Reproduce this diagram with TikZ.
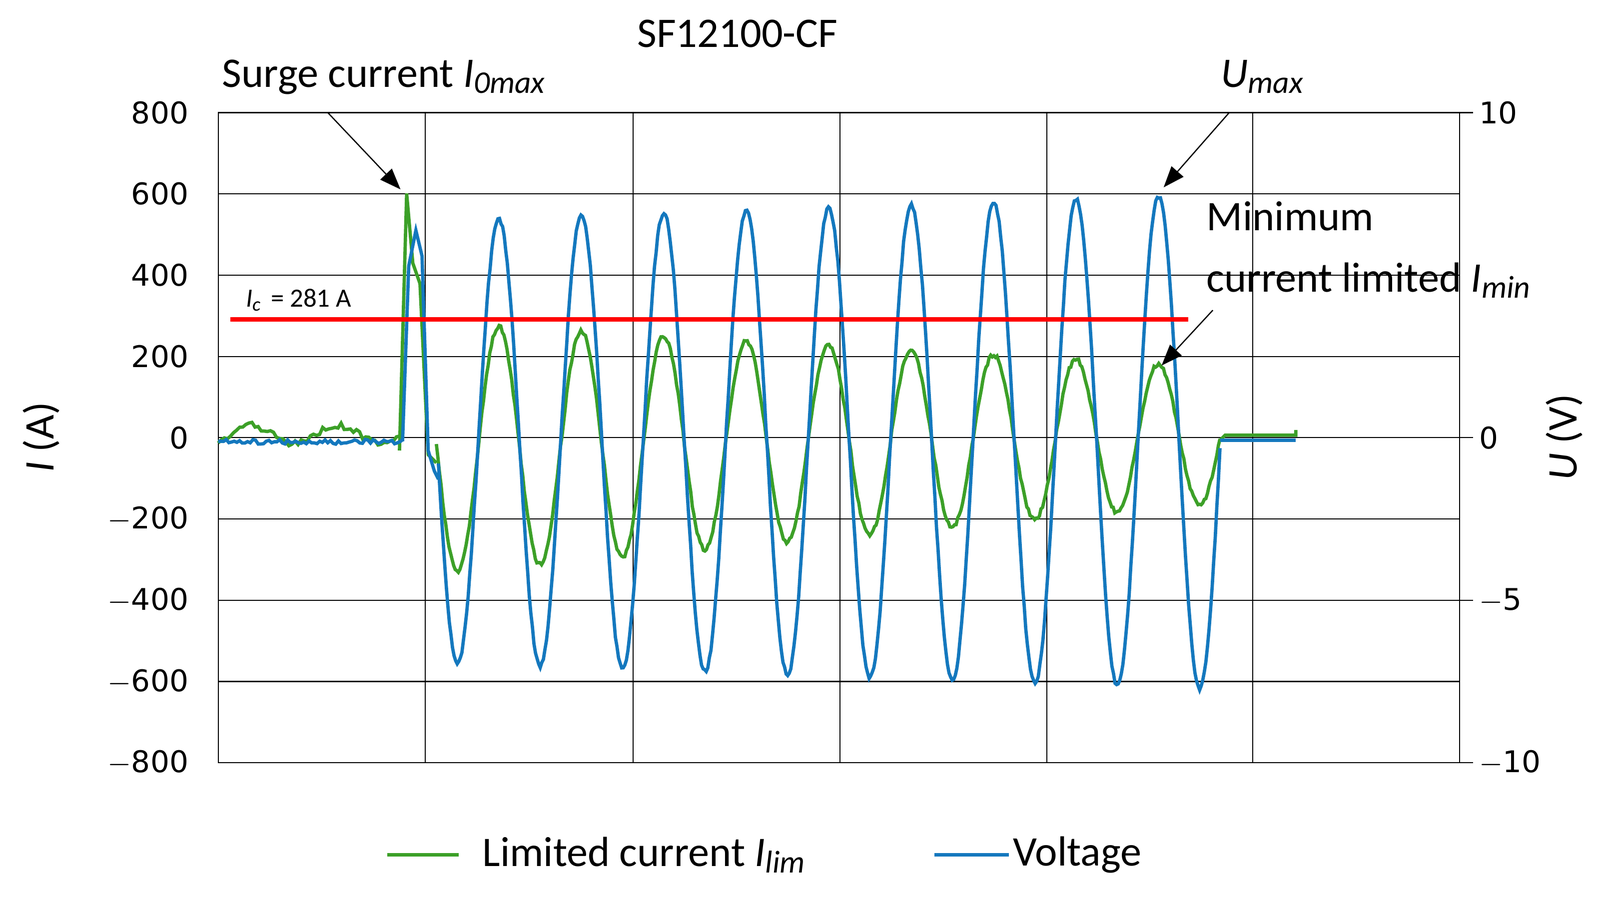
\documentclass[tikz,border=0pt]{standalone}
\usepackage{fontspec}
\usetikzlibrary{arrows.meta}
\setmainfont{Carlito}
\newfontfamily\tickfont{DejaVu Sans}
\newcommand\mysub[1]{\raisebox{-0.3ex}{\fontsize{18}{18}\selectfont\textit{#1}}}
\begin{document}
\begin{tikzpicture}[x=0.0205cm,y=-0.0205cm,
  grid/.style={black,line width=0.6pt},
  tick/.style={font=\tickfont\fontsize{17}{17}\selectfont},
  lbl/.style={font=\fontsize{24}{24}\selectfont},
  ar/.style={-{Triangle[length=12pt,width=9pt]},line width=0.7pt},
  gcurve/.style={line width=1.9pt,color={rgb,255:red,60;green,160;blue,40}},
  bcurve/.style={line width=1.9pt,color={rgb,255:red,20;green,120;blue,190}}]
\useasboundingbox (0,0) rectangle (1562,881);
% grid
\foreach \x in {415,618,820,1022,1223} \draw[grid] (\x,110) -- (\x,745);
\foreach \i in {1,...,7} \draw[grid] (213,{110+\i*79.375}) -- (1425,{110+\i*79.375});
\draw[grid] (213,110) rectangle (1425,745);
\foreach \v/\t in {800/800,600/600,400/400,200/200,0/0,-200/$-$200,-400/$-$400,-600/$-$600,-800/$-$800}
  \node[tick,anchor=east] (l\v) at (190,{427.5-0.3969*\v}) {\t};
\foreach \v/\t in {10/10,0/0,-5/$-$5,-10/$-$10}{
  \draw[grid] (1425,{427.5-31.75*\v}) -- (1438,{427.5-31.75*\v});
  \node[tick,anchor=west] (r\v) at (1438,{427.5-31.75*\v}) {\t};}
\node[lbl,rotate=90] (ya) at (40,427) {\textit{I} (A)};
\node[lbl,rotate=90] (yb) at (1527,427) {\textit{U} (V)};
\node[lbl] (title) at (720,33) {SF12100-CF};
% green current
\draw[gcurve] plot[domain=213:390,samples=60] (\x,{427.5-0.3969*(8+22*cos((\x-245)*4.235)+8*rand)});
\draw[gcurve] (390,440) -- (397,189) -- (403,257) -- (410,277) -- (418,444) -- (426,452);
\draw[gcurve] plot[domain=426:1191,samples=500] (\x,{427.5-0.3969*((-25+0.04138*(\x-446))+(305-0.18621*(\x-446))*cos((\x-487)*4.472)+5*rand)});
\draw[gcurve] (1191,430) -- (1196,425) -- (1265,425) -- (1265,420);
% blue voltage
\draw[bcurve] plot[domain=213:393,samples=70] (\x,{427.5-0.3969*(-10+6*rand)});
\draw[bcurve] (393,431) -- (399,260) -- (406,225) -- (412,250) -- (418,440) -- (424,460) -- (428,468);
\draw[bcurve] plot[domain=428:1191,samples=500] (\x,{427.5-0.3969*(-10+(545+0.08552*(\x-446))*cos((\x-487)*4.472)+5*rand)});
\draw[bcurve] (1191,430) -- (1265,430);
% red line
\draw[red,line width=2.4pt] (225,312) coordinate (ra) -- (1160,312) coordinate (rb);
\node[font=\fontsize{15}{15}\selectfont,anchor=base west] (ic) at (234,300) {\textit{I}\raisebox{-0.3ex}{\fontsize{11}{11}\selectfont\textit{c}} \,= 281 A};
% annotations
\node[lbl,anchor=base west] (surge) at (211,85) {Surge current \textit{I}\mysub{0max}};
\coordinate (sp) at (391,185);
\draw[ar] (320,110) -- (sp);
\node[lbl,anchor=base west] (umax) at (1186,85) {\textit{U}\mysub{max}};
\coordinate (up) at (1136,183);
\draw[ar] (1200,110) -- (up);
\node[lbl,anchor=base west] (min1) at (1172,225) {Minimum};
\node[lbl,anchor=base west] (min2) at (1172,285) {current limited \textit{I}\mysub{min}};
\coordinate (ip) at (1134,357);
\draw[ar] (1184,303) -- (ip);
% legend
\draw[gcurve] (378,835) coordinate (g1) -- (448,835) coordinate (g2);
\node[lbl,anchor=west] (lg) at (465,835) {Limited current \textit{I}\mysub{lim}};
\draw[bcurve] (912,835) coordinate (b1) -- (985,835) coordinate (b2);
\node[lbl,anchor=west] (lb) at (983,835) {Voltage};
\end{tikzpicture}
\end{document}
